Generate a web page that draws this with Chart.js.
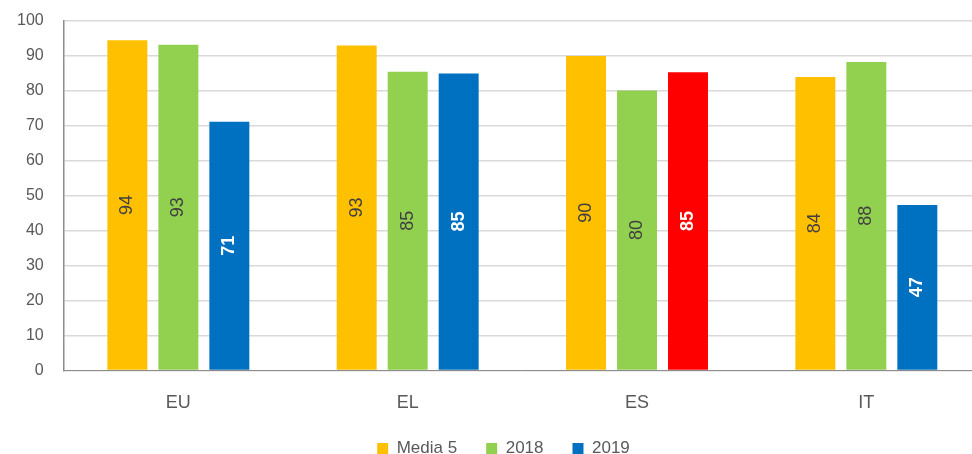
<!DOCTYPE html>
<html>
<head>
<meta charset="utf-8">
<script src="https://cdn.jsdelivr.net/npm/chart.js@4/dist/chart.umd.min.js"></script>
<style>
  html, body { margin: 0; padding: 0; background: #fff; overflow: hidden; }
  #wrap { width: 981px; height: 454px; }
</style>
</head>
<body>
<div id="wrap"><canvas id="myChart"></canvas></div>
<script>
// Data
const categories = ['EU', 'EL', 'ES', 'IT'];
const media5 = [94.4, 92.9, 89.9, 83.9];
const year2018 = [93.1, 85.4, 80.0, 88.2];
const year2019 = [71.1, 84.9, 85.2, 47.3];
const yTicks = [0, 10, 20, 30, 40, 50, 60, 70, 80, 90, 100];

const FONT = "'Liberation Sans', Arial, sans-serif";

// Rotated values inside the bars, plus a tweak of the legend box
const barLabels = {
    id: 'barLabels',
    afterInit(chart) {
        const legend = chart.legend;
        const fit = legend.fit;
        legend.fit = function () {
            fit.call(this);
            this.height -= 30;
        };
        const draw = legend.draw;
        legend.draw = function (...args) {
            const top = this.top, height = this.height;
            const left = this.left, right = this.right;
            this.top -= 17;
            this.height += 17;
            this.left += 10;
            this.right += 10;
            draw.apply(this, args);
            this.top = top;
            this.height = height;
            this.left = left;
            this.right = right;
        };
    },
    afterDatasetsDraw(chart) {
        const ctx = chart.ctx;
        chart.data.datasets.forEach((ds, i) => {
            const meta = chart.getDatasetMeta(i);
            meta.data.forEach((bar, j) => {
                const mid = (bar.y + bar.base) / 2;
                ctx.save();
                ctx.translate(bar.x, mid);
                ctx.rotate(-Math.PI / 2);
                ctx.textAlign = 'center';
                ctx.textBaseline = 'middle';
                ctx.fillStyle = ds.labelColor;
                ctx.font = (ds.labelBold ? 'bold ' : '') + '18px ' + FONT;
                ctx.fillText(Math.round(ds.data[j]), 0, 0);
                ctx.restore();
            });
        });
    }
};

const ctx = document.getElementById("myChart").getContext("2d");
const myChart = new Chart(ctx, {
    type: 'bar',
    data: {
        labels: categories,
        datasets: [{
            label: 'Media 5',
            data: media5,
            backgroundColor: '#ffc000',
            labelColor: '#404040',
            labelBold: false
        }, {
            label: '2018',
            data: year2018,
            backgroundColor: '#92d050',
            labelColor: '#404040',
            labelBold: false
        }, {
            label: '2019',
            data: year2019,
            backgroundColor: ['#0070c0', '#0070c0', '#ff0000', '#0070c0'],
            labelColor: '#ffffff',
            labelBold: true
        }]
    },
    options: {
        responsive: true,
        maintainAspectRatio: false,
        animation: false,
        categoryPercentage: 0.667,
        barPercentage: 0.784,
        layout: { padding: { top: 0, left: 6, right: 0, bottom: 0 } },
        plugins: {
            legend: {
                position: 'bottom',
                labels: {
                    boxWidth: 11,
                    boxHeight: 11,
                    padding: 29,
                    color: '#595959',
                    font: { family: FONT, size: 17 },
                    generateLabels(chart) {
                        return chart.data.datasets.map((ds, i) => ({
                            text: ds.label,
                            fillStyle: Array.isArray(ds.backgroundColor) ? ds.backgroundColor[0] : ds.backgroundColor,
                            strokeStyle: 'transparent',
                            lineWidth: 0,
                            fontColor: '#595959',
                            datasetIndex: i
                        }));
                    }
                }
            },
            tooltip: { enabled: false }
        },
        scales: {
            x: {
                grid: { display: false },
                border: { color: '#8c8c8c', width: 1 },
                ticks: { color: '#595959', font: { family: FONT, size: 18 }, padding: 14 }
            },
            y: {
                min: 0,
                max: 100,
                afterBuildTicks(scale) {
                    scale.ticks = yTicks.map(v => ({ value: v }));
                },
                grid: { color: '#d9d9d9', lineWidth: 1.5, drawTicks: true, tickLength: 9, tickColor: 'rgba(0,0,0,0)' },
                border: { color: '#8c8c8c', width: 1.5 },
                ticks: { color: '#595959', font: { family: FONT, size: 16 }, padding: 11 }
            }
        }
    },
    plugins: [barLabels]
});
</script>
</body>
</html>
